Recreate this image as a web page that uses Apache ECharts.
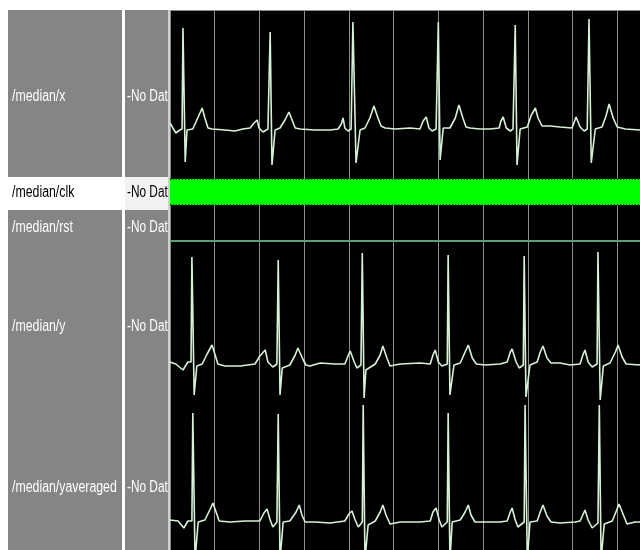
<!DOCTYPE html>
<html>
<head>
<meta charset="utf-8">
<script src="https://cdn.jsdelivr.net/npm/echarts@6/dist/echarts.min.js"></script>
<style>html,body{margin:0;padding:0;background:#fff}#c{width:640px;height:550px}</style>
</head>
<body>
<div id="c"></div>
<script>
// ---- data (time in ns, amplitude in arbitrary units) ----
var timeMax = 1051;
var gridStep = 100;
var signalNames = ['/median/x', '/median/clk', '/median/rst', '/median/y', '/median/yaveraged'];
var signalValues = ['-No Dat', '-No Dat', '-No Dat', '-No Dat', '-No Dat'];

var sigX = [[0,5],[13,-5],[22,-2],[27,-1],[29,100],[34,-34],[38,-2],[51,-1],[60,8],[72,20],[78,10],[85,0],[94,-1],[123,-2],[145,-3],[163,-1],[179,0],[188,5],[195,8],[199,0],[208,-4],[219,-1],[224,96],[228,-37],[235,-2],[246,0],[257,8],[266,16],[273,8],[280,0],[291,-1],[324,-2],[358,-2],[376,-1],[383,4],[387,10],[391,0],[398,-3],[405,-1],[409,106],[416,-35],[425,-2],[436,0],[447,10],[456,22],[465,10],[472,2],[481,0],[503,-1],[537,0],[559,-1],[566,7],[573,11],[579,0],[586,-3],[595,-1],[600,106],[604,-32],[611,0],[626,0],[638,10],[646,23],[655,10],[662,1],[671,0],[693,-1],[716,-1],[736,0],[740,7],[745,11],[752,0],[761,-3],[767,-1],[772,103],[776,-37],[783,-1],[799,1],[808,13],[817,20],[823,10],[832,2],[850,2],[872,1],[899,0],[904,6],[908,11],[917,1],[926,-3],[933,-1],[937,109],[942,-35],[951,-1],[966,1],[975,12],[982,24],[991,10],[1000,1],[1018,-1],[1051,-2]];

var clkWindow = [[0,1],[1051,1]];
var rstValues = [[0,0],[1051,0]];

var sigY = [[0,0],[13,-2],[29,-8],[40,0],[47,0],[49,105],[54,-33],[60,-4],[72,-2],[83,8],[94,17],[101,7],[107,-2],[123,-4],[157,-4],[190,-2],[201,6],[213,12],[219,0],[230,-5],[239,-2],[242,102],[246,-33],[251,-6],[268,-3],[280,7],[286,14],[298,2],[304,-3],[313,-4],[336,-1],[369,-2],[391,-2],[398,6],[403,11],[412,0],[418,-6],[427,-3],[430,109],[434,-36],[438,-8],[459,-2],[470,7],[476,16],[485,4],[492,-4],[515,-2],[559,-1],[582,-2],[588,7],[593,12],[600,0],[608,-4],[620,-2],[622,107],[626,-33],[635,-3],[649,-1],[660,10],[667,17],[676,4],[685,-2],[705,-3],[738,-2],[754,0],[761,10],[765,13],[774,0],[781,-6],[790,-3],[792,106],[796,-35],[805,-3],[821,0],[828,10],[834,16],[843,4],[852,-1],[872,-1],[895,-3],[917,-2],[924,8],[928,12],[935,0],[944,-5],[955,-2],[957,110],[962,-38],[969,-4],[984,-1],[996,10],[1002,17],[1011,5],[1020,-2],[1051,-3]];

var sigYavg = [[0,0],[18,-1],[31,-8],[40,-1],[49,-1],[51,107],[56,-40],[63,-2],[78,0],[89,10],[96,17],[103,8],[110,-1],[134,-2],[168,-1],[201,-1],[210,7],[217,11],[224,0],[230,-7],[239,-2],[242,106],[246,-40],[253,-2],[268,-1],[282,8],[289,15],[295,5],[302,-2],[324,-2],[358,-3],[391,-1],[400,6],[407,9],[414,0],[421,-7],[430,-2],[432,115],[436,-40],[443,-5],[459,-1],[470,8],[476,15],[483,5],[492,-4],[515,-2],[559,-2],[582,-1],[588,8],[595,12],[602,0],[608,-7],[620,-2],[622,107],[626,-40],[631,-2],[649,0],[660,8],[667,15],[673,5],[682,-2],[705,-2],[738,-2],[754,-1],[761,8],[765,12],[772,0],[778,-7],[792,-2],[794,115],[799,-40],[805,-2],[821,-1],[828,8],[834,15],[843,4],[852,-2],[872,-3],[906,-2],[917,-1],[924,6],[928,10],[935,0],[944,-8],[957,-3],[960,115],[964,-40],[971,-4],[989,-1],[998,9],[1004,16],[1013,6],[1022,-4],[1040,-2],[1051,-2]];

// ---- layout ----
var waveLeft = 170, waveWidth = 470;
var rows = [
  {top: 10,  height: 166, min: -48, max: 118, label: 97},
  {top: 179, height: 26,  min: 0,   max: 1,   label: 193},
  {top: 213, height: 28,  min: 0,   max: 1,   label: 228},
  {top: 242, height: 160, min: -40, max: 120, label: 327},
  {top: 402, height: 148, min: -30, max: 118, label: 488}
];

var chart = echarts.init(document.getElementById('c'), null, {renderer: 'canvas'});

var grids = [{left: waveLeft, top: 10, width: waveWidth, height: 540, show: true, backgroundColor: '#000', borderWidth: 0}];
var xAxes = [{gridIndex: 0, type: 'value', min: 0, max: timeMax, interval: gridStep,
  axisLine: {show: false}, axisTick: {show: false}, axisLabel: {show: false},
  splitLine: {show: true, lineStyle: {color: '#8c8c8c', width: 1}}}];
var yAxes = [{gridIndex: 0, type: 'value', show: false, min: 0, max: 1}];
rows.forEach(function (r, i) {
  grids.push({left: waveLeft, top: r.top, width: waveWidth, height: r.height, show: false});
  xAxes.push({gridIndex: i + 1, type: 'value', min: 0, max: timeMax, show: false});
  yAxes.push({gridIndex: i + 1, type: 'value', min: r.min, max: r.max, show: false});
});

var waveStyle = {color: '#d6f2d6', width: 1.6};
function wave(idx, data) {
  return {type: 'line', xAxisIndex: idx, yAxisIndex: idx, data: data, showSymbol: false,
    lineStyle: waveStyle, animation: false, silent: true, clip: true};
}

var series = [
  wave(1, sigX),
  {type: 'line', xAxisIndex: 2, yAxisIndex: 2, data: clkWindow, showSymbol: false, animation: false, silent: true,
    lineStyle: {color: '#0a4a0a', width: 2, type: [1, 2]},
    areaStyle: {color: '#00ff00', origin: 'start', opacity: 1}},
  {type: 'line', xAxisIndex: 2, yAxisIndex: 2, data: [[0,0],[timeMax,0]], showSymbol: false, animation: false, silent: true,
    lineStyle: {color: '#0a4a0a', width: 2, type: [1, 2]}},
  {type: 'line', xAxisIndex: 3, yAxisIndex: 3, data: rstValues, showSymbol: false, animation: false, silent: true,
    lineStyle: {color: '#5a9e7a', width: 2}},
  wave(4, sigY),
  wave(5, sigYavg)
];

// ---- name / value panels ----
var g = [];
g.push({type: 'rect', shape: {x: 8, y: 10, width: 114, height: 540}, style: {fill: '#858585'}, z: 1});
g.push({type: 'rect', shape: {x: 122, y: 10, width: 3, height: 540}, style: {fill: '#ffffff'}, z: 1});
g.push({type: 'rect', shape: {x: 125, y: 10, width: 43, height: 540}, style: {fill: '#858585'}, z: 1});
g.push({type: 'rect', shape: {x: 168, y: 10, width: 2, height: 540}, style: {fill: '#cfcfcf'}, z: 1});
g.push({type: 'rect', shape: {x: 170, y: 10, width: 470, height: 1}, style: {fill: '#8c8c8c'}, z: 10});
// selected row highlight
g.push({type: 'rect', shape: {x: 8, y: 177, width: 114, height: 33}, style: {fill: '#ffffff'}, z: 2});
g.push({type: 'rect', shape: {x: 125, y: 177, width: 43, height: 33}, style: {fill: '#f2f2f2'}, z: 2});
rows.forEach(function (r, i) {
  var sel = (i === 1);
  g.push({type: 'text', x: 12, y: r.label, scaleX: 0.77, z: 5,
    style: {text: signalNames[i], fill: sel ? '#000' : '#fff', fontSize: 16, fontFamily: 'Liberation Sans, Arial, sans-serif', verticalAlign: 'middle', align: 'left'}});
  g.push({type: 'text', x: 127, y: r.label, scaleX: 0.74, z: 5,
    style: {text: signalValues[i], fill: sel ? '#000' : '#fff', fontSize: 16, fontFamily: 'Liberation Sans, Arial, sans-serif', verticalAlign: 'middle', align: 'left'}});
});

chart.setOption({
  animation: false,
  backgroundColor: '#ffffff',
  grid: grids,
  xAxis: xAxes,
  yAxis: yAxes,
  series: series,
  graphic: {elements: g}
});
</script>
</body>
</html>
